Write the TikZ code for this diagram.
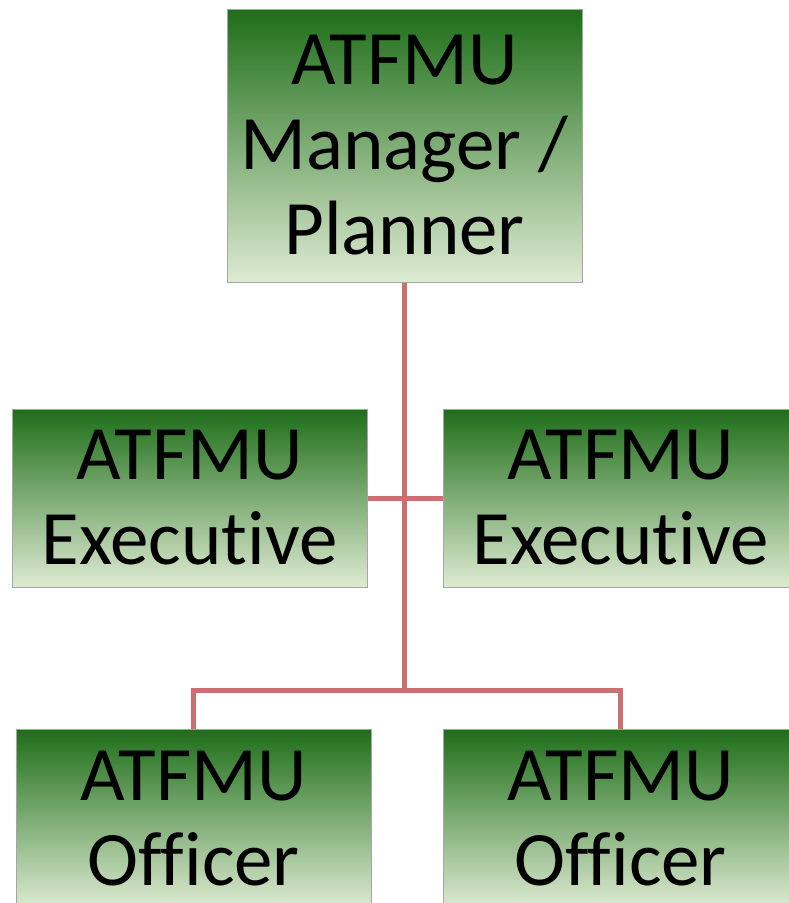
\documentclass[tikz,border=0pt]{standalone}
\usepackage{fontspec}
\setmainfont{Carlito}[Ligatures=NoCommon]
\begin{document}
\begin{tikzpicture}[x=1pt,y=1pt,
  box/.style={draw=black!35,line width=1pt,rectangle,inner sep=0pt,
    top color={rgb,255:red,30;green,110;blue,25},
    middle color={rgb,255:red,158;green,188;blue,112},
    bottom color={rgb,255:red,222;green,235;blue,210},
    align=center,font=\fontsize{77}{85}\selectfont},
  conn/.style={draw={rgb,255:red,203;green,112;blue,112},line width=5pt}]
\useasboundingbox (0,0) rectangle (789,-903);
\clip (0,0) rectangle (789,-903);
\node[box,minimum width=355,minimum height=273] (top) at (404.5,-145.5) {ATFMU\\Manager /\\Planner};
\node[box,minimum width=355,minimum height=178] (exl) at (189.5,-498) {ATFMU\\Executive};
\node[box,minimum width=355,minimum height=178] (exr) at (620.5,-498) {ATFMU\\Executive};
\node[box,minimum width=355,minimum height=180] (ofl) at (193.5,-819) {ATFMU\\Officer};
\node[box,minimum width=355,minimum height=180] (ofr) at (620.5,-819) {ATFMU\\Officer};
\coordinate (bus) at (404.5,-690);
\draw[conn] (top.south) -- (bus);
\draw[conn] (exl.east) -- (exr.west);
\draw[conn] (ofl.north) |- (bus) -| (ofr.north);
\end{tikzpicture}
\end{document}
